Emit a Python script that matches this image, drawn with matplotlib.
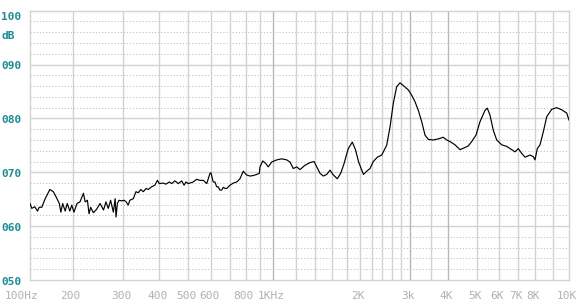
import numpy as np
import matplotlib
matplotlib.use("Agg")
import matplotlib.pyplot as plt
from matplotlib.scale import FuncScale
import matplotlib.transforms as mtransforms

# ---------------- data ----------------
freqs = [100, 103, 108, 113, 116, 121, 128, 138, 146, 153, 161, 165, 170, 177, 183, 191, 197,
         202, 207, 212, 218, 221, 225, 228, 231, 236, 242, 249, 256, 261, 266, 271, 277, 281,
         283, 286, 290, 296, 302, 307, 312, 316, 325, 332, 338, 345, 352, 360, 366, 376, 386,
         394, 400, 411, 421, 432, 440, 451, 463, 475, 484, 491, 500, 520, 535, 549, 564, 580,
         595, 600, 611, 620, 629, 637, 646, 656, 664, 674, 684, 702, 722, 743, 763, 784, 806,
         828, 851, 874, 893, 898, 918, 942, 960, 987, 1028, 1070, 1113, 1143, 1173, 1206, 1238,
         1288, 1341, 1385, 1415, 1453, 1491, 1533, 1574, 1616, 1668, 1714, 1760, 1821, 1881,
         1929, 1976, 2028, 2058, 2112, 2169, 2228, 2301, 2385, 2483, 2551, 2620, 2693, 2766,
         2841, 2959, 3039, 3115, 3193, 3276, 3358, 3442, 3574, 3711, 3852, 3952, 4054, 4216,
         4385, 4561, 4681, 4807, 4972, 5137, 5351, 5453, 5574, 5727, 5888, 6131, 6381, 6641,
         6818, 7000, 7193, 7386, 7686, 7891, 8000, 8122, 8267, 8448, 8639, 8927, 9225, 9531,
         9850, 10000]
db = [64.2, 63.3, 63.6, 62.8, 63.5, 63.5, 65.1, 66.8, 66.4, 65.4, 64.2, 62.6, 64.2, 62.8, 64.2,
      62.8, 63.9, 62.6, 64.2, 64.5, 66.1, 64.5, 64.8, 62.3, 63.5, 62.5, 63.1, 64.2, 63.0, 64.5,
      63.3, 64.8, 62.6, 65.1, 61.7, 64.2, 64.8, 64.7, 64.8, 64.5, 63.9, 64.8, 65.1, 66.4, 66.2,
      66.8, 66.4, 67.0, 66.8, 67.3, 67.6, 68.5, 67.9, 68.0, 67.8, 68.2, 67.9, 68.4, 67.9, 68.4,
      67.6, 68.2, 67.9, 68.2, 68.7, 68.5, 68.5, 67.9, 69.8, 69.9, 68.2, 68.2, 67.3, 67.3, 66.7,
      66.7, 67.2, 67.0, 67.0, 67.6, 68.0, 68.2, 68.8, 70.2, 69.5, 69.3, 69.4, 69.6, 69.8, 71.0,
      72.1, 71.6, 71.0, 71.9, 72.3, 72.5, 72.3, 71.9, 70.7, 71.0, 70.5, 71.3, 71.8, 72.0, 71.0,
      69.8, 69.3, 69.6, 70.4, 69.5, 68.8, 69.8, 71.6, 74.4, 75.6, 74.2, 72.0, 70.4, 69.6, 70.2,
      70.7, 72.0, 72.8, 73.2, 75.0, 78.4, 82.8, 85.9, 86.6, 86.1, 85.3, 84.3, 83.1, 81.5, 79.4,
      76.9, 76.1, 76.0, 76.2, 76.5, 76.0, 75.7, 75.1, 74.2, 74.6, 74.9, 75.7, 76.9, 79.4, 81.5,
      81.9, 80.6, 77.8, 76.0, 75.1, 74.8, 74.2, 73.8, 74.4, 73.5, 72.8, 73.2, 72.9, 72.3, 74.4,
      75.1, 77.5, 80.3, 81.7, 82.0, 81.6, 81.0, 79.7]

tick_freqs = [100, 200, 300, 400, 500, 600, 800, 1000, 2000, 3000, 4000, 5000, 6000, 7000, 8000, 10000]
tick_labels = ['100Hz', '200', '300', '400', '500', '600', '800', '1KHz', '2K', '3k', '4K', '5K',
               '6K', '7K', '8K', '10K']
grid_freqs = [200, 300, 400, 500, 600, 700, 800, 900, 1000, 1200, 1400, 1600, 1800, 2000, 2200,
              2400, 2600, 2800, 3000, 3500, 4000, 5000, 6000, 7000, 8000, 9000]
dark_grid = [1000, 3000, 4000]
y_ticks = [50, 60, 70, 80, 90, 100]
y_labels = ['050', '060', '070', '080', '090', '100']

# ---------------- custom frequency scale (piecewise log) ----------------
_anch_log = np.log10(np.array(tick_freqs, dtype=float))
_anch_pos = np.array([30, 72.7, 123.3, 159.3, 188.3, 211, 245.7, 273.3, 360, 410, 448.3,
                      476.7, 499, 518.3, 535, 569.0])

def fwd(f):
    f = np.asarray(f, dtype=float)
    lf = np.log10(np.clip(f, 1e-6, None))
    return np.interp(lf, _anch_log, _anch_pos)

def inv(x):
    x = np.asarray(x, dtype=float)
    return 10 ** np.interp(x, _anch_pos, _anch_log)

W, H = 579, 306
fig = plt.figure(figsize=(W / 100, H / 100), dpi=100)
fig.patch.set_facecolor('white')
left_px, right_px, top_px, bot_px = 30, 569, 10.7, 280
ax = fig.add_axes([left_px / W, (H - bot_px) / H, (right_px - left_px) / W, (bot_px - top_px) / H])
ax.set_xscale(FuncScale(ax.xaxis, (fwd, inv)))
ax.set_xlim(100, 10000)
ax.set_ylim(50, 100)
ax.xaxis.set_major_locator(matplotlib.ticker.NullLocator())
ax.xaxis.set_minor_locator(matplotlib.ticker.NullLocator())
ax.set_yticks([])
ax.set_xticks([])

grid_c = '#d2d2d2'
for s in ax.spines.values():
    s.set_color(grid_c)
    s.set_linewidth(1.0)

# horizontal grid
for v in range(52, 100, 2):
    if v % 10 == 0:
        ax.axhline(v, color=grid_c, lw=1.0, zorder=1)
    else:
        ax.axhline(v, color='#c0c0c0', lw=0.7, ls=(0, (1.2, 2.0)), zorder=1)
# vertical grid
for f in grid_freqs:
    ax.axvline(f, color='#b8b8b8' if f in dark_grid else grid_c, lw=1.0, zorder=1)

ax.plot(freqs, db, color='black', lw=0.85, zorder=3)

# x labels
for f, lab in zip(tick_freqs, tick_labels):
    dx = -8 if lab == '100Hz' else -2
    off = mtransforms.ScaledTranslation(dx / 100, 0, fig.dpi_scale_trans)
    ax.text(f, -16 / (bot_px - top_px), lab, transform=ax.get_xaxis_transform() + off,
            ha='center', va='center', fontsize=8, family='DejaVu Sans Mono', color='#b0b0b0')

# y labels
teal = '#1f8b95'
ytr = ax.get_yaxis_transform()
lx = (1.5 - left_px) / (right_px - left_px)
for v, lab in zip(y_ticks, y_labels):
    yy = v - 0.35
    if v == 100:
        yy = 98.9
    ax.text(lx, yy, lab, transform=ytr, ha='left', va='center', fontsize=8,
            family='DejaVu Sans Mono', fontweight='bold', color=teal, clip_on=False)
ax.text(lx, 95.3, 'dB', transform=ytr, ha='left', va='center', fontsize=8,
        family='DejaVu Sans Mono', fontweight='bold', color=teal, clip_on=False)

fig.savefig('out.png', dpi=100, facecolor='white')
